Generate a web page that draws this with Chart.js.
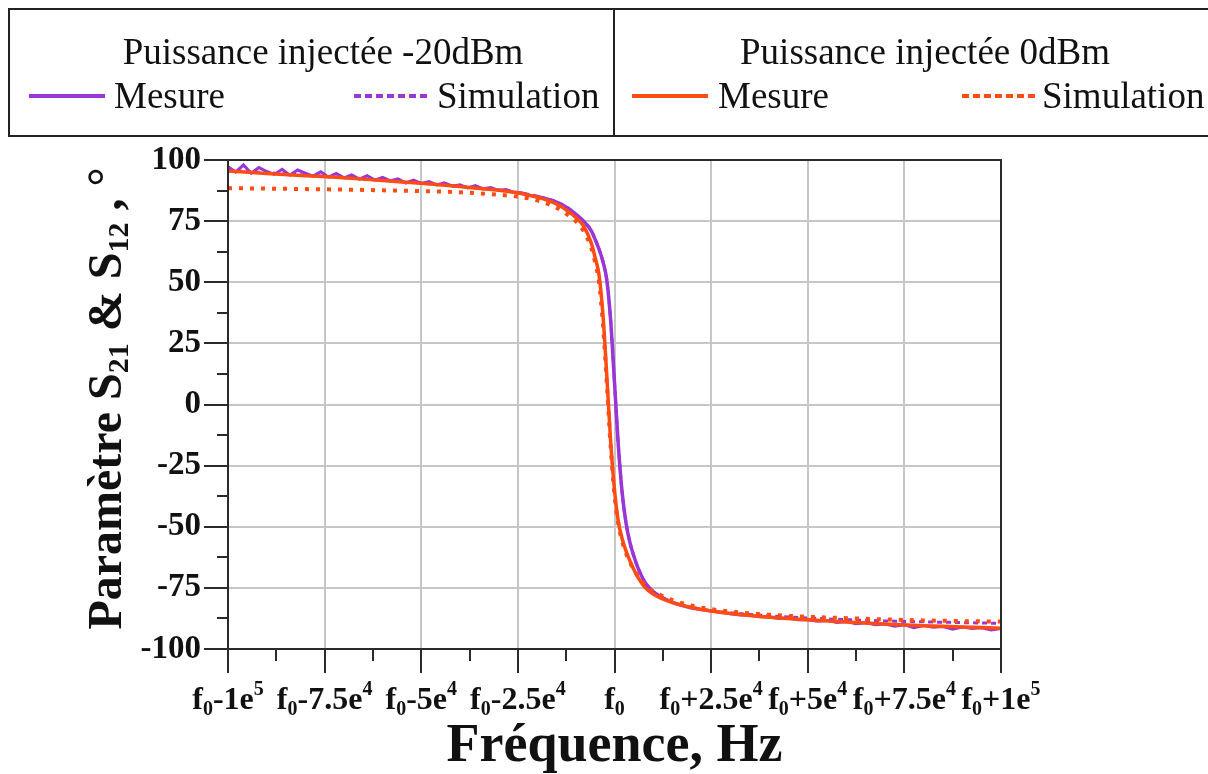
<!DOCTYPE html>
<html>
<head>
<meta charset="utf-8">
<script src="https://cdn.jsdelivr.net/npm/chart.js@4.4.1/dist/chart.umd.min.js"></script>
<style>
  body { margin: 0; background: #fff; width: 1208px; height: 774px; overflow: hidden; position: relative;
         font-family: 'Liberation Serif', 'Times New Roman', serif; }
  #chart { position: absolute; left: 0; top: 0; }
  .legend { position: absolute; left: 8px; top: 8px; width: 1230px; height: 129px;
            border: 2px solid #222; box-sizing: border-box; }
  .legend .sep { position: absolute; left: 603px; top: 0; bottom: 0; border-left: 2px solid #222; }
  .lg-text { position: absolute; font-size: 37px; line-height: 37px; color: #111; white-space: nowrap; }
  .lg-line { position: absolute; height: 4px; width: 76px; }
</style>
</head>
<body>
<canvas id="chart" width="1208" height="774"></canvas>
<div class="legend" id="legend"><div class="sep"></div></div>
<script>
// ─── Data ───────────────────────────────────────────────────────────────────
// frequency offsets from f0, in units of 1e4 Hz
const xGrid = [-10, -9, -8, -7, -6, -5, -4, -3, -2.5, -2, -1.5, -1.2, -1, -0.8, -0.6, -0.5, -0.4, -0.3, -0.2, -0.1,
               0, 0.1, 0.2, 0.3, 0.4, 0.5, 0.6, 0.8, 1, 1.2, 1.5, 2, 2.5, 3, 4, 5, 6, 7, 8, 9, 10];

// Puissance injectée 0dBm
const mesure0 = [95.5, 94.5, 93.6, 92.7, 91.6, 90.5, 89.2, 87.6, 86.5, 84.8, 82, 79, 76.5, 73, 66, 60, 53, 37, 12, -15,
                 -35, -48, -55, -60, -64, -67.5, -70.5, -75, -77.5, -79.2, -81, -83, -84.5, -85.5, -87, -88, -89, -89.8, -90.5, -91, -91.5];
const simul0  = [88.5, 88.3, 88.1, 87.9, 87.6, 87.3, 86.8, 85.8, 85, 83.5, 80.5, 77.5, 75, 71, 64, 58, 50, 33, 9, -17,
                 -37, -49, -56, -61, -64.5, -67.5, -70, -74, -76.5, -78, -80, -82.3, -83.7, -84.7, -86, -86.8, -87.4, -87.9, -88.3, -88.6, -88.8];

// Puissance injectée -20dBm
const simul20 = [95.8, 94.8, 93.8, 92.8, 91.7, 90.5, 89.2, 87.7, 86.7, 85.2, 82.8, 80.3, 77.8, 75, 71, 67.5, 63.5, 58.5, 51, 34.5,
                 9, -17, -36.3, -48.7, -56.5, -62, -66.5, -73, -76.5, -78.6, -80.9, -83, -84.3, -85.2, -86.4, -87.3, -88, -88.5, -88.9, -89.2, -89.5];

// measured trace: smooth centre on xGrid[9..31] (-2 … 2), noisy tails sampled separately
const mesure20Centre = [85.1, 82.8, 80.3, 77.8, 75, 71, 67.5, 63.5, 58.5, 51, 34.5,
                        9, -17, -36.3, -48.7, -56.5, -62, -66.5, -73, -76.5, -78.6, -80.9, -83.3];
const mesure20LeftX  = [-10, -9.8, -9.6, -9.4, -9.2, -9, -8.8, -8.6, -8.4, -8.2, -8, -7.8, -7.6, -7.4, -7.2, -7, -6.8, -6.6, -6.4, -6.2,
                        -6, -5.8, -5.6, -5.4, -5.2, -5, -4.8, -4.6, -4.4, -4.2, -4, -3.8, -3.6, -3.4, -3.2, -3, -2.8, -2.6, -2.4, -2.2, -2];
const mesure20LeftY  = [97.2, 95.1, 98.0, 94.6, 96.9, 95.3, 94.1, 96.2, 93.8, 95.9, 94.6, 93.4, 95.2, 93.0, 94.5, 92.7, 93.9, 92.2, 93.6, 91.8,
                        92.9, 91.5, 92.3, 90.6, 91.8, 90.4, 91.2, 89.8, 90.7, 89.3, 89.9, 88.6, 89.5, 88.2, 88.7, 87.6, 87.9, 86.7, 86.6, 85.6, 85.1];
const mesure20RightX = [2, 2.25, 2.5, 2.75, 3, 3.25, 3.5, 3.75, 4, 4.25, 4.5, 4.75, 5, 5.25, 5.5, 5.75, 6, 6.25, 6.5, 6.75,
                        7, 7.25, 7.5, 7.75, 8, 8.25, 8.5, 8.75, 9, 9.25, 9.5, 9.75, 10];
const mesure20RightY = [-83.3, -84.0, -84.5, -85.0, -85.6, -86.1, -86.2, -86.8, -86.9, -87.5, -87.3, -88.0, -88.0, -88.6, -88.3, -89.2, -88.8, -89.7, -89.3, -90.1,
                        -89.8, -90.7, -90.1, -91.3, -90.4, -91.1, -90.8, -91.9, -91.0, -91.6, -91.3, -92.2, -91.6];

// axis ticks
const xTickValues = [-10, -7.5, -5, -2.5, 0, 2.5, 5, 7.5, 10];
const xTickMain   = ['-1e', '-7.5e', '-5e', '-2.5e', '', '+2.5e', '+5e', '+7.5e', '+1e'];
const xTickExp    = ['5', '4', '4', '4', '', '4', '4', '4', '5'];
const xMinor      = [-8.75, -6.25, -3.75, -1.25, 1.25, 3.75, 6.25, 8.75];
const yMinor      = [87.5, 62.5, 37.5, 12.5, -12.5, -37.5, -62.5, -87.5];

const groupTitles = ['Puissance injectée -20dBm', 'Puissance injectée 0dBm'];
const seriesNames = ['Mesure', 'Simulation'];

const PURPLE = '#9a36d6';
const ORANGE = '#ff4b14';
const SERIF  = "'Liberation Serif', 'Times New Roman', serif";

// ─── Legend (HTML) ──────────────────────────────────────────────────────────
(function buildLegend() {
  const box = document.getElementById('legend');
  const groups = [
    { title: groupTitles[0], color: PURPLE, cx: 313, lines: [19, 344], texts: [104, 427] },
    { title: groupTitles[1], color: ORANGE, cx: 915, lines: [622, 952], texts: [708, 1032] },
  ];
  const addText = (txt, left, baseline, center) => {
    const s = document.createElement('div');
    s.className = 'lg-text';
    s.textContent = txt;
    s.style.top = (baseline - 31 - 10) + 'px';
    s.style.left = left + 'px';
    if (center) s.style.transform = 'translateX(-50%)';
    box.appendChild(s);
  };
  groups.forEach(g => {
    addText(g.title, g.cx, 64, true);
    seriesNames.forEach((name, i) => {
      const l = document.createElement('div');
      l.className = 'lg-line';
      l.style.left = g.lines[i] + 'px';
      l.style.top = (96 - 10 - 2) + 'px';
      l.style.background = i === 0 ? g.color
        : `repeating-linear-gradient(90deg, ${g.color} 0 7px, transparent 7px 11px)`;
      box.appendChild(l);
      addText(name, g.texts[i], 108, false);
    });
  });
})();

// ─── Decorations: frame, minor ticks, tick labels with sub/superscripts, titles ──
const decor = {
  id: 'decor',
  afterDraw(chart) {
    const { ctx, chartArea: a, scales: { x, y } } = chart;
    ctx.save();
    ctx.strokeStyle = '#2a2a2a';
    ctx.lineWidth = 2;
    ctx.strokeRect(a.left, a.top, a.right - a.left, a.bottom - a.top);

    ctx.beginPath();
    yMinor.forEach(v => { const py = Math.round(y.getPixelForValue(v)); ctx.moveTo(a.left - 11, py); ctx.lineTo(a.left, py); });
    xMinor.forEach(v => { const px = Math.round(x.getPixelForValue(v)); ctx.moveTo(px, a.bottom); ctx.lineTo(px, a.bottom + 12); });
    ctx.stroke();

    // x tick labels: f0 ± value e exp
    ctx.fillStyle = '#111';
    ctx.textBaseline = 'alphabetic';
    ctx.textAlign = 'left';
    const big = `bold 32px ${SERIF}`, small = `bold 20px ${SERIF}`;
    const base = 709;
    xTickValues.forEach((v, i) => {
      const parts = [
        { t: 'f', f: big, dy: 0 },
        { t: '0', f: small, dy: 6 },
        { t: xTickMain[i], f: big, dy: 0 },
        { t: xTickExp[i], f: small, dy: -14 },
      ];
      let w = 0;
      parts.forEach(p => { ctx.font = p.f; p.w = ctx.measureText(p.t).width; w += p.w; });
      let cx = x.getPixelForValue(v) - w / 2;
      parts.forEach(p => { ctx.font = p.f; ctx.fillText(p.t, cx, base + p.dy); cx += p.w; });
    });

    // x title
    ctx.font = `bold 54px ${SERIF}`;
    ctx.textAlign = 'center';
    ctx.fillText('Fréquence, Hz', (a.left + a.right) / 2, 761);

    // y title, rotated, with subscripts
    const yBig = `bold 48px ${SERIF}`, ySmall = `bold 30px ${SERIF}`;
    const yParts = [
      { t: 'Paramètre S', f: yBig, dy: 0 },
      { t: '21', f: ySmall, dy: 7 },
      { t: ' & S', f: yBig, dy: 0 },
      { t: '12', f: ySmall, dy: 7 },
      { t: ' , ', f: yBig, dy: 0 },
      { t: '°', f: yBig, dy: 0 },
    ];
    let tw = 0;
    yParts.forEach(p => { ctx.font = p.f; p.w = ctx.measureText(p.t).width; tw += p.w; });
    ctx.translate(121, (a.top + a.bottom) / 2 - 6);
    ctx.rotate(-Math.PI / 2);
    ctx.textAlign = 'left';
    let sx = -tw / 2;
    yParts.forEach(p => { ctx.font = p.f; ctx.fillText(p.t, sx, p.dy); sx += p.w; });
    ctx.restore();
  }
};

// ─── Chart ──────────────────────────────────────────────────────────────────
const pts = (xs, ys) => xs.map((v, i) => ({ x: v, y: ys[i] }));
const centreX = xGrid.slice(9, 32);
const noisy = { borderColor: PURPLE, borderWidth: 3, tension: 0, cubicInterpolationMode: 'default', order: 3 };

new Chart(document.getElementById('chart'), {
  type: 'line',
  data: {
    datasets: [
      { label: 'Simulation 0dBm', data: pts(xGrid, simul0), borderColor: ORANGE, borderWidth: 4,
        borderDash: [4, 7], borderCapStyle: 'butt', order: 0 },
      { label: 'Mesure 0dBm', data: pts(xGrid, mesure0), borderColor: ORANGE, borderWidth: 3.5, order: 1 },
      { label: 'Simulation -20dBm', data: pts(xGrid, simul20), borderColor: PURPLE, borderWidth: 3,
        borderDash: [5, 4], order: 2 },
      { label: 'Mesure -20dBm', data: pts(centreX, mesure20Centre), borderColor: PURPLE, borderWidth: 3.5, order: 3 },
      { label: 'Mesure -20dBm (bas)', data: pts(mesure20LeftX, mesure20LeftY), ...noisy },
      { label: 'Mesure -20dBm (haut)', data: pts(mesure20RightX, mesure20RightY), ...noisy },
    ]
  },
  options: {
    responsive: false,
    animation: false,
    events: [],
    layout: { padding: { top: 160, right: 207, left: 0, bottom: 0 } },
    elements: { point: { radius: 0 }, line: { cubicInterpolationMode: 'monotone', fill: false } },
    plugins: { legend: { display: false }, tooltip: { enabled: false } },
    scales: {
      x: {
        type: 'linear', min: -10, max: 10,
        afterFit: s => { s.height = 125; },
        grid: { color: '#c6c6c6', lineWidth: 2, tickColor: '#2a2a2a', tickLength: 24, tickWidth: 2 },
        border: { color: '#2a2a2a', width: 2 },
        ticks: { stepSize: 2.5, autoSkip: false, maxRotation: 0, callback: () => '' },
      },
      y: {
        min: -100, max: 100,
        afterFit: s => { s.width = 228; },
        grid: { color: '#c6c6c6', lineWidth: 2, tickColor: '#2a2a2a', tickLength: 24, tickWidth: 2 },
        border: { color: '#2a2a2a', width: 2 },
        ticks: { stepSize: 25, padding: 3, color: '#111', font: { family: SERIF, size: 33, weight: 'bold' } },
      }
    }
  },
  plugins: [decor]
});
</script>
</body>
</html>
